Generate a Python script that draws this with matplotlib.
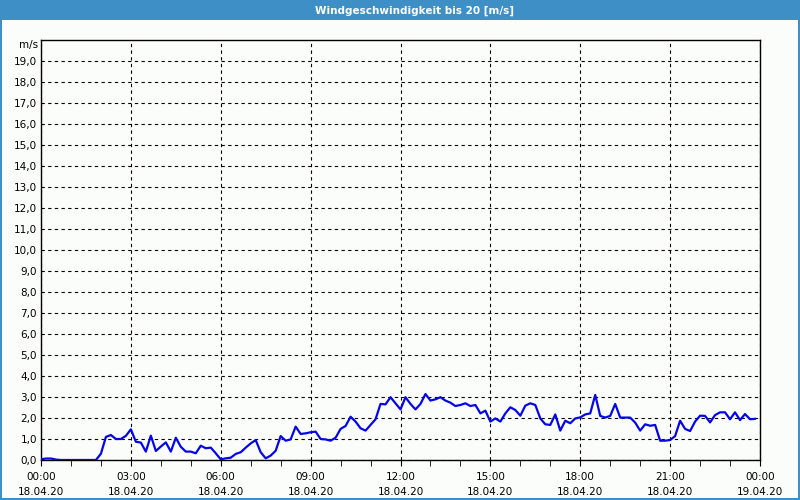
import numpy as np
import pandas as pd
import matplotlib
matplotlib.use("Agg")
import matplotlib.pyplot as plt
import matplotlib.dates as mdates
from matplotlib.patches import Rectangle

# ============================================================
# Data (10-minute samples, 18.04.20 00:00 onwards)
# ============================================================
TITLE = "Windgeschwindigkeit bis 20 [m/s]"
UNIT = "m/s"
START = "2020-04-18 00:00"
STEP = "10min"

wind_speed = [
    0.03, 0.07, 0.07, 0.02, 0.0, 0.0, 0.0, 0.0, 0.0, 0.0, 0.0, 0.0,
    0.30, 1.10, 1.19, 1.00, 1.00, 1.15, 1.46, 0.87, 0.83, 0.40, 1.16, 0.43,
    0.64, 0.84, 0.40, 1.06, 0.63, 0.40, 0.40, 0.32, 0.68, 0.56, 0.59, 0.32,
    0.03, 0.08, 0.11, 0.29, 0.37, 0.59, 0.79, 0.95, 0.37, 0.08, 0.21, 0.44,
    1.14, 0.92, 0.98, 1.59, 1.24, 1.27, 1.32, 1.35, 1.00, 0.98, 0.92, 1.06,
    1.48, 1.62, 2.06, 1.83, 1.51, 1.40, 1.67, 1.94, 2.67, 2.65, 2.99, 2.70,
    2.41, 2.99, 2.67, 2.41, 2.67, 3.14, 2.83, 2.89, 2.99, 2.83, 2.73, 2.57,
    2.62, 2.70, 2.57, 2.62, 2.22, 2.35, 1.83, 1.98, 1.83, 2.22, 2.51, 2.38,
    2.11, 2.59, 2.70, 2.62, 1.98, 1.70, 1.67, 2.17, 1.40, 1.87, 1.75, 1.98,
    2.03, 2.17, 2.22, 3.10, 2.10, 2.02, 2.10, 2.67, 2.02, 2.02, 2.02, 1.78,
    1.40, 1.70, 1.63, 1.67, 0.92, 0.92, 0.95, 1.14, 1.87, 1.48, 1.38, 1.83,
    2.11, 2.10, 1.79, 2.14, 2.27, 2.27, 1.94, 2.27, 1.90, 2.19, 1.94, 1.96,
]

y_ticks = list(range(0, 20))

BG = "#fbfdfb"
BAR = "#3d8fc6"
LINE = "#0505e8"

# ============================================================
# Plot
# ============================================================
times = pd.date_range(START, periods=len(wind_speed), freq=STEP)
t0 = pd.Timestamp(START)
t1 = t0 + pd.Timedelta(hours=24)

fig = plt.figure(figsize=(8, 5), dpi=100, facecolor=BG)

# title bar and window border
fig.patches.append(Rectangle((0, 0.96), 1, 0.04, transform=fig.transFigure,
                             facecolor=BAR, edgecolor="none", zorder=0))
for rect in [(0, 0, 0.0025, 1), (0.9975, 0, 0.0025, 1), (0, 0, 1, 0.004)]:
    fig.patches.append(Rectangle(rect[:2], rect[2], rect[3],
                                 transform=fig.transFigure,
                                 facecolor=BAR, edgecolor="none"))
fig.text(0.518, 0.979, TITLE, color="white", fontsize=7.5, fontweight="bold",
         ha="center", va="center")

ax = fig.add_axes([0.05125, 0.08, 0.89875, 0.84])
ax.set_facecolor(BG)
ax.plot(times, wind_speed, color=LINE, linewidth=1.6, zorder=3)

ax.set_xlim(t0, t1)
ax.set_ylim(0, 20)

ax.set_yticks(y_ticks)
ax.set_yticklabels([f"{v},0" for v in y_ticks], fontsize=7.5)
ax.tick_params(axis="y", length=0, pad=3)

ax.xaxis.set_major_locator(mdates.HourLocator(byhour=range(0, 24, 3)))
ax.xaxis.set_minor_locator(mdates.HourLocator())
ax.xaxis.set_major_formatter(mdates.DateFormatter("%H:%M\n%d.%m.%y"))
ax.tick_params(axis="x", which="both", direction="out", length=4,
               labelsize=7.5, pad=5)
for lbl in ax.get_xticklabels():
    lbl.set_linespacing(1.6)

ax.grid(True, which="major", color="black", linestyle=(0, (3, 3)),
        linewidth=0.8)

for s in ax.spines.values():
    s.set_linewidth(1.0)
    s.set_color("black")

ax.text(-0.004, 1.0, UNIT, transform=ax.transAxes, ha="right", va="top",
        fontsize=7.5)

fig.savefig("out.png", dpi=100, facecolor=BG)
